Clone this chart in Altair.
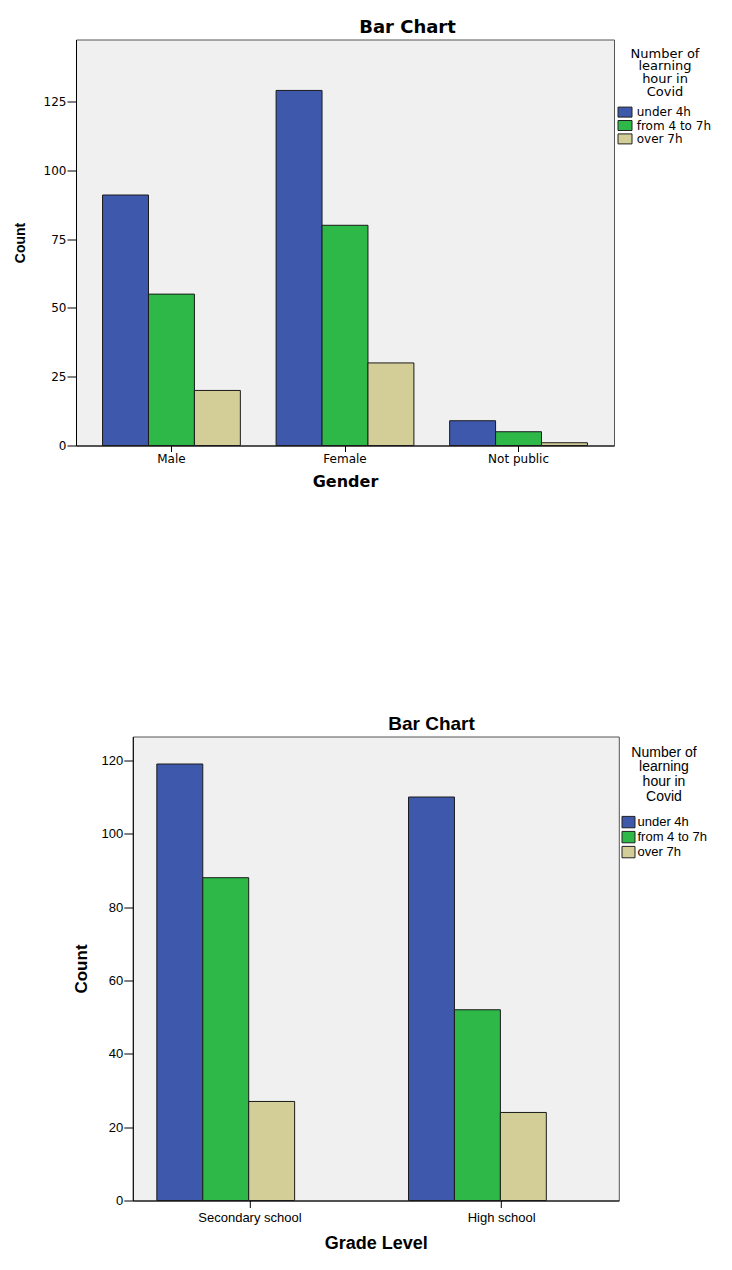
import altair as alt
import pandas as pd

# ---- data ----
hours = ["under 4h", "from 4 to 7h", "over 7h"]
hour_colors = ["#3E58AC", "#2EB848", "#D3CE97"]

genders = ["Male", "Female", "Not public"]
gender_under4 = [91, 129, 9]
gender_4to7 = [55, 80, 5]
gender_over7 = [20, 30, 1]

grades = ["Secondary school", "High school"]
grade_under4 = [119, 110]
grade_4to7 = [88, 52]
grade_over7 = [27, 24]

gender_ticks = [0, 25, 50, 75, 100, 125]
grade_ticks = [0, 20, 40, 60, 80, 100, 120]
legend_title = ["Number of", "learning", "hour in", "Covid"]


def long_table(cats, catname, series):
    rows = []
    for h, vals in zip(hours, series):
        for c, v in zip(cats, vals):
            rows.append({catname: c, "Hours": h, "Count": v})
    return pd.DataFrame(rows)


df1 = long_table(genders, "Gender", [gender_under4, gender_4to7, gender_over7])
df2 = long_table(grades, "Grade", [grade_under4, grade_4to7, grade_over7])

color_scale = alt.Scale(domain=hours, range=hour_colors)

# ---- chart 1 : Gender ----
chart1 = alt.Chart(df1).mark_bar(stroke="#1a1a1a", strokeWidth=1, opacity=1).encode(
    x=alt.X("Gender:N", sort=genders,
            scale=alt.Scale(paddingInner=0.206, paddingOuter=0.153),
            axis=alt.Axis(tickSize=6, tickColor="black", labelAngle=0, labelPadding=2,
                          labelFont="DejaVu Sans", labelFontSize=12, labelColor="black",
                          domainColor="black", title="Gender", titleFont="DejaVu Sans",
                          titleFontSize=16, titleFontWeight="bold", titleColor="black",
                          titleY=36.3, titleBaseline="middle")),
    xOffset=alt.XOffset("Hours:N", sort=hours,
                        scale=alt.Scale(paddingInner=0, paddingOuter=0)),
    y=alt.Y("Count:Q", scale=alt.Scale(domain=[0, 147.5], nice=False),
            axis=alt.Axis(values=gender_ticks, tickSize=9, tickColor="black", labelPadding=1,
                          labelFont="DejaVu Sans", labelFontSize=12, labelColor="black",
                          grid=False, domainColor="black", title="Count",
                          titleFont="Liberation Sans", titleFontSize=14, titleFontWeight="bold",
                          titleColor="black", titleX=-56, titleY=203, titleAngle=270,
                          titleBaseline="middle")),
    color=alt.Color("Hours:N", sort=hours, scale=color_scale,
                    legend=alt.Legend(title=legend_title, orient="right", offset=-2.7, padding=8,
                                      titleFont="DejaVu Sans", titleFontSize=13,
                                      titleFontWeight="normal", titleColor="black",
                                      titleAlign="center", titleAnchor="middle",
                                      titleLineHeight=12.7, titlePadding=7.5,
                                      labelFont="DejaVu Sans", labelFontSize=12,
                                      labelColor="black", labelOffset=5.7,
                                      symbolType="M-1.4,-1H1.4V1H-1.4Z", symbolSize=100,
                                      symbolStrokeColor="#222222", symbolStrokeWidth=1,
                                      symbolOpacity=1, rowPadding=-0.6)),
).properties(
    width=538, height=406,
    view=alt.ViewBackground(fill="#F0F0F0", stroke="#555555", strokeWidth=1),
    title=alt.TitleParams("Bar Chart", font="DejaVu Sans", fontSize=18, fontWeight="bold",
                          color="black", anchor="middle", frame="group", dx=62.5, dy=18.4,
                          offset=6.6, baseline="alphabetic"),
)

# ---- chart 2 : Grade Level ----
chart2 = alt.Chart(df2).mark_bar(stroke="#1a1a1a", strokeWidth=1, opacity=1).encode(
    x=alt.X("Grade:N", sort=grades,
            scale=alt.Scale(paddingInner=0.26, paddingOuter=0.0955),
            axis=alt.Axis(tickSize=7, tickColor="black", labelAngle=0, labelPadding=3.7,
                          labelFont="Liberation Sans", labelFontSize=13, labelColor="black",
                          domainColor="black", title="Grade Level", titleFont="Liberation Sans",
                          titleFontSize=18, titleFontWeight="bold", titleColor="black",
                          titleY=43, titleBaseline="middle")),
    xOffset=alt.XOffset("Hours:N", sort=hours,
                        scale=alt.Scale(paddingInner=0, paddingOuter=0)),
    y=alt.Y("Count:Q", scale=alt.Scale(domain=[0, 126.5], nice=False),
            axis=alt.Axis(values=grade_ticks, tickSize=9, tickColor="black", labelPadding=1,
                          labelFont="Liberation Sans", labelFontSize=13, labelColor="black",
                          grid=False, domainColor="black", title="Count",
                          titleFont="Liberation Sans", titleFontSize=17, titleFontWeight="bold",
                          titleColor="black", titleX=-51.8, titleY=232, titleAngle=270,
                          titleBaseline="middle")),
    color=alt.Color("Hours:N", sort=hours, scale=color_scale,
                    legend=alt.Legend(title=legend_title, orient="right", offset=-7.5, padding=9,
                                      titleFont="Liberation Sans", titleFontSize=14,
                                      titleFontWeight="normal", titleColor="black",
                                      titleAlign="center", titleAnchor="middle",
                                      titleLineHeight=14.7, titlePadding=12,
                                      labelFont="Liberation Sans", labelFontSize=13,
                                      labelColor="black", labelOffset=2.5,
                                      symbolType="M-1.14,-1H1.14V1H-1.14Z", symbolSize=130,
                                      symbolStrokeColor="#222222", symbolStrokeWidth=1,
                                      symbolOpacity=1, rowPadding=-2.6)),
).properties(
    width=486, height=464,
    view=alt.ViewBackground(fill="#F0F0F0", stroke="#555555", strokeWidth=1),
    title=alt.TitleParams("Bar Chart", font="Liberation Sans", fontSize=19, fontWeight="bold",
                          color="black", anchor="middle", frame="group", dx=55.7, dy=19.7,
                          offset=7.3, baseline="alphabetic"),
)

# invisible narrow cell so the second chart sits further right, as in the reference
spacer = alt.Chart(pd.DataFrame({"s": [0]})).mark_point(opacity=0).properties(
    width=1, height=10,
    view=alt.ViewBackground(fill="transparent", stroke="transparent"),
)

row2 = alt.hconcat(spacer, chart2, spacing=-9.2)

chart = alt.vconcat(chart1, row2, spacing=223).properties(
    padding={"left": 4, "top": 10.5, "right": 0, "bottom": 2},
    background="white",
).resolve_scale(color="independent")

chart.save("out.html", embed_options={"renderer": "svg", "actions": False})
